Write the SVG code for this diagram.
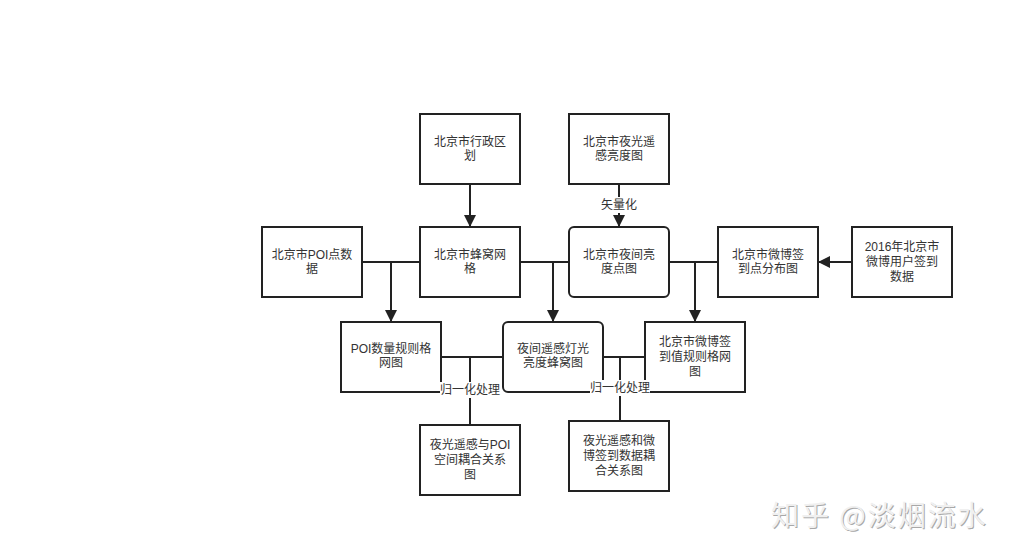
<svg xmlns="http://www.w3.org/2000/svg" width="1014" height="557" viewBox="0 0 1014 557">
<style>
.box{fill:#fff;stroke:#222;stroke-width:2}
.t{font-family:"Liberation Sans","Noto Sans CJK SC",sans-serif;font-size:12px;fill:#333;text-anchor:middle}
.ln{fill:none;stroke:#222;stroke-width:2}
.lb{fill:#fff}
.wm{font-family:"Noto Sans CJK SC",sans-serif;font-size:28px;letter-spacing:2px;text-anchor:start}
</style>
<defs>
<marker id="ah" markerUnits="userSpaceOnUse" markerWidth="12" markerHeight="14" refX="12" refY="6" orient="auto">
<path d="M0,0 L12,6 L0,12 Z" fill="#222"/>
</marker>
</defs>
<rect width="1014" height="557" fill="#fff"/>

<g id="n_xzqh"><rect class="box" x="420" y="114" width="100" height="70"/><text class="t" x="470" y="146">北京市行政区</text><text class="t" x="470" y="160">划</text></g>
<g id="n_ygld"><rect class="box" x="569" y="114" width="100" height="70"/><text class="t" x="619" y="146">北京市夜光遥</text><text class="t" x="619" y="160">感亮度图</text></g>
<g id="n_poi"><rect class="box" x="262" y="227" width="100" height="70"/><text class="t" x="312" y="259">北京市POI点数</text><text class="t" x="312" y="273">据</text></g>
<g id="n_fw"><rect class="box" x="420" y="227" width="100" height="70"/><text class="t" x="470" y="259">北京市蜂窝网</text><text class="t" x="470" y="273">格</text></g>
<g id="n_yjd"><rect class="box" x="569" y="227" width="100" height="70" rx="5"/><text class="t" x="619" y="259">北京市夜间亮</text><text class="t" x="619" y="273">度点图</text></g>
<g id="n_wbd"><rect class="box" x="718" y="227" width="100" height="70"/><text class="t" x="768" y="259">北京市微博签</text><text class="t" x="768" y="273">到点分布图</text></g>
<g id="n_2016"><rect class="box" x="852" y="227" width="100" height="70"/><text class="t" x="902" y="251">2016年北京市</text><text class="t" x="902" y="266">微博用户签到</text><text class="t" x="902" y="281">数据</text></g>
<g id="n_poigw"><rect class="box" x="341" y="322" width="100" height="70"/><text class="t" x="391" y="353">POI数量规则格</text><text class="t" x="391" y="367">网图</text></g>
<g id="n_fwt"><rect class="box" x="503" y="322" width="100" height="70" rx="5"/><text class="t" x="553" y="353">夜间遥感灯光</text><text class="t" x="553" y="367">亮度蜂窝图</text></g>
<g id="n_wbgw"><rect class="box" x="645" y="322" width="100" height="70"/><text class="t" x="695" y="346">北京市微博签</text><text class="t" x="695" y="361">到值规则格网</text><text class="t" x="695" y="376">图</text></g>
<g id="n_oh1"><rect class="box" x="420" y="425" width="100" height="70"/><text class="t" x="470" y="449">夜光遥感与POI</text><text class="t" x="470" y="464">空间耦合关系</text><text class="t" x="470" y="479">图</text></g>
<g id="n_oh2"><rect class="box" x="569" y="421" width="100" height="70"/><text class="t" x="619" y="445">夜光遥感和微</text><text class="t" x="619" y="460">博签到数据耦</text><text class="t" x="619" y="475">合关系图</text></g>

<g id="connectors">
<path class="ln" d="M470,184 L470,227" marker-end="url(#ah)"/>
<path class="ln" d="M619,184 L619,227" marker-end="url(#ah)"/>
<rect class="lb" x="599" y="197" width="40" height="16"/>
<text class="t" x="619" y="209">矢量化</text>
<path class="ln" d="M362,262 L420,262"/>
<path class="ln" d="M391,262 L391,322" marker-end="url(#ah)"/>
<path class="ln" d="M520,262 L569,262"/>
<path class="ln" d="M553,262 L553,322" marker-end="url(#ah)"/>
<path class="ln" d="M669,262 L718,262"/>
<path class="ln" d="M695,262 L695,322" marker-end="url(#ah)"/>
<path class="ln" d="M852,262 L818,262" marker-end="url(#ah)"/>
<path class="ln" d="M441,357 L503,357"/>
<path class="ln" d="M470,357 L470,425"/>
<rect class="lb" x="440" y="382" width="60" height="16"/>
<text class="t" x="470" y="394">归一化处理</text>
<path class="ln" d="M603,357 L645,357"/>
<path class="ln" d="M620,357 L620,421"/>
<rect class="lb" x="590" y="380" width="60" height="16"/>
<text class="t" x="620" y="392">归一化处理</text>
</g>

<g id="watermark">
<text class="wm" x="772" y="527" fill="#a8a8a8">知乎 @淡烟流水</text>
<text class="wm" x="771" y="526" fill="#f0f0f0">知乎 @淡烟流水</text>
</g>
</svg>
